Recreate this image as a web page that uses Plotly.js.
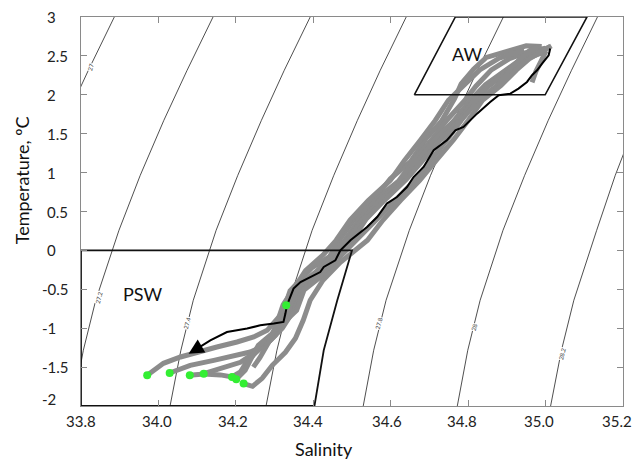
<!DOCTYPE html>
<html><head><meta charset="utf-8">
<script src="https://cdn.plot.ly/plotly-3.0.1.min.js"></script>
<style>html,body{margin:0;padding:0;background:#fff}#chart{width:633px;height:459px}</style>
</head><body><div id="chart"></div>
<script>
// ---- isopycnal (sigma-theta) lines ----
const isoLabels = ['27', '27.2', '27.4', '27.6', '27.8', '28', '28.2'];
const iso270S = [33.886, 33.819, 33.759];
const iso270T = [3.0, 2.315, 1.672];
const iso272S = [34.141, 34.074, 34.014, 33.953, 33.898, 33.838, 33.806, 33.779];
const iso272T = [3.0, 2.315, 1.672, 0.965, 0.258, -0.641, -1.284, -2.0];
const iso274S = [34.392, 34.325, 34.266, 34.205, 34.149, 34.090, 34.058, 34.030];
const iso274T = [3.0, 2.315, 1.672, 0.965, 0.258, -0.641, -1.284, -2.0];
const iso276S = [34.640, 34.573, 34.514, 34.453, 34.397, 34.338, 34.306, 34.278];
const iso276T = [3.0, 2.315, 1.672, 0.965, 0.258, -0.641, -1.284, -2.0];
const iso278S = [34.891, 34.824, 34.764, 34.703, 34.648, 34.588, 34.556, 34.529];
const iso278T = [3.0, 2.315, 1.672, 0.965, 0.258, -0.641, -1.284, -2.0];
const iso280S = [35.134, 35.067, 35.007, 34.946, 34.890, 34.831, 34.799, 34.772];
const iso280T = [3.0, 2.315, 1.672, 0.965, 0.258, -0.641, -1.284, -2.0];
const iso282S = [35.345, 35.285, 35.235, 35.180, 35.132, 35.073, 35.041, 35.013];
const iso282T = [3.0, 2.315, 1.672, 0.965, 0.258, -0.641, -1.284, -2.0];
// contour label anchor points
const isoLabelText = ['27', '27.2', '27.4', '27.8', '28', '28.2'];
const isoLabelS = [33.824, 33.845, 34.073, 34.569, 34.814, 35.043];
const isoLabelT = [2.353, -0.599, -0.937, -0.941, -0.985, -1.327];

// ---- water mass boxes ----
const awS = [34.661, 34.999, 35.107, 34.767, 34.661];
const awT = [2.0, 2.0, 3.0, 3.0, 2.0];
const pswS = [33.8, 34.5, 34.462, 34.427, 34.403, 33.8, 33.8];
const pswT = [0.0, 0.0, -0.64, -1.284, -2.0, -2.0, 0.0];
const boxNames = ['AW', 'PSW'];
const boxLabelS = [34.797, 33.960];
const boxLabelT = [2.53, -0.555];

// ---- gray profiles ----
const p1S = [33.971,34.013,34.057,34.100,34.151,34.203,34.246,34.281,34.321,34.340,34.397,34.442,34.470,34.505,34.552,34.599,34.651,34.692,34.731,34.765,34.782,34.814,34.847,34.909,34.950,34.990];
const p1T = [-1.605,-1.451,-1.370,-1.306,-1.242,-1.177,-1.113,-1.027,-0.80,-0.52,-0.22,-0.08,0.15,0.40,0.62,0.92,1.14,1.44,1.66,1.95,2.14,2.33,2.48,2.57,2.63,2.62];
const p2S = [34.029,34.082,34.143,34.186,34.237,34.276,34.302,34.331,34.351,34.408,34.452,34.480,34.516,34.563,34.620,34.662,34.702,34.746,34.790,34.820,34.860,34.905,34.960,35.000];
const p2T = [-1.576,-1.477,-1.413,-1.370,-1.306,-1.220,-1.091,-0.75,-0.50,-0.27,-0.05,0.12,0.38,0.66,0.89,1.17,1.40,1.68,1.92,2.11,2.32,2.46,2.56,2.60];
const p3S = [34.081,34.117,34.160,34.190,34.212,34.227,34.253,34.281,34.310,34.341,34.361,34.418,34.462,34.490,34.526,34.573,34.630,34.672,34.713,34.762,34.806,34.845,34.895,34.940,34.991,35.005,35.012];
const p3T = [-1.605,-1.590,-1.600,-1.627,-1.560,-1.440,-1.306,-1.160,-1.040,-0.78,-0.50,-0.25,-0.07,0.14,0.39,0.65,0.90,1.16,1.42,1.66,1.93,2.13,2.30,2.47,2.57,2.60,2.62];
const p4S = [34.117,34.160,34.212,34.258,34.289,34.320,34.351,34.371,34.428,34.473,34.500,34.536,34.583,34.640,34.682,34.728,34.777,34.816,34.855,34.905,34.955,35.001,34.990,34.975,34.965];
const p4T = [-1.584,-1.515,-1.438,-1.284,-1.156,-1.001,-0.76,-0.52,-0.26,-0.05,0.13,0.40,0.64,0.91,1.15,1.42,1.67,1.94,2.12,2.31,2.47,2.56,2.45,2.30,2.16];
const p5S = [34.201,34.224,34.237,34.258,34.289,34.328,34.357,34.376,34.439,34.473,34.511,34.565,34.612,34.662,34.705,34.745,34.782,34.826,34.875,34.910,34.935,34.960,34.980];
const p5T = [-1.657,-1.542,-1.413,-1.220,-1.091,-0.898,-0.77,-0.51,-0.26,-0.06,0.13,0.39,0.64,0.90,1.16,1.42,1.67,1.93,2.12,2.32,2.47,2.57,2.62];
const p6S = [34.220,34.243,34.268,34.294,34.328,34.354,34.374,34.392,34.425,34.470,34.540,34.580,34.625,34.675,34.718,34.762,34.800,34.837,34.885,34.925,34.960,34.996,35.015];
const p6T = [-1.712,-1.747,-1.644,-1.477,-1.310,-1.130,-0.898,-0.641,-0.384,-0.153,0.13,0.39,0.64,0.90,1.16,1.42,1.67,1.93,2.12,2.32,2.47,2.57,2.63];
const p7S = [34.245,34.262,34.285,34.305,34.322,34.346,34.380,34.425,34.459,34.495,34.542,34.599,34.636,34.677,34.715,34.749,34.790,34.830,34.880,34.945];
const p7T = [-1.50,-1.38,-1.18,-0.95,-0.70,-0.51,-0.26,-0.06,0.13,0.39,0.64,0.90,1.16,1.42,1.67,1.93,2.12,2.32,2.47,2.57];

// ---- black profile ----
const blackS = [35.012,35.008,34.991,34.978,34.965,34.952,34.930,34.909,34.879,34.857,34.823,34.788,34.767,34.745,34.711,34.685,34.659,34.642,34.616,34.590,34.565,34.539,34.496,34.470,34.457,34.427,34.418,34.367,34.349,34.341,34.332,34.328,34.323,34.298,34.263,34.229,34.177,34.134,34.100];
const blackT = [2.594,2.508,2.401,2.315,2.251,2.165,2.080,2.015,1.994,1.907,1.758,1.586,1.544,1.415,1.287,1.072,0.943,0.815,0.686,0.602,0.429,0.301,0.130,0.001,-0.128,-0.213,-0.278,-0.406,-0.491,-0.599,-0.706,-0.812,-0.920,-0.941,-0.963,-1.005,-1.049,-1.156,-1.262];
const arrowTipS = 34.078;
const arrowTipT = -1.327;

// ---- green points ----
const dotS = [33.971, 34.029, 34.081, 34.117, 34.190, 34.201, 34.220, 34.330];
const dotT = [-1.605, -1.576, -1.605, -1.584, -1.627, -1.657, -1.712, -0.706];

// ---- axis ticks ----
const xTicks = [33.8, 34.0, 34.2, 34.4, 34.6, 34.8, 35.0, 35.2];
const xTickText = ['33.8', '34.0', '34.2', '34.4', '34.6', '34.8', '35.0', '35.2'];
const yTicks = [-2, -1.5, -1, -0.5, 0, 0.5, 1, 1.5, 2, 2.5, 3];
const yTickText = ['-2', '-1.5', '-1', '-0.5', '0', '0.5', '1', '1.5', '2', '2.5', '3'];
const xLabelShift = [0, -1.5, -3, -5, -4, -6, -7, -6];   // label offsets seen in the reference (px)

const FONT = 'Lato, "Open Sans", sans-serif';
const traces = [];
const isoSets = [[iso270S, iso270T], [iso272S, iso272T], [iso274S, iso274T], [iso276S, iso276T], [iso278S, iso278T], [iso280S, iso280T], [iso282S, iso282T]];
isoSets.forEach((p, i) => traces.push({
  type: 'scatter', mode: 'lines', x: p[0], y: p[1], name: isoLabels[i],
  line: {color: '#222', width: 0.8}, hoverinfo: 'skip', showlegend: false
}));
const grays = [[p1S, p1T], [p2S, p2T], [p3S, p3T], [p4S, p4T], [p5S, p5T], [p6S, p6T], [p7S, p7T]];
grays.forEach(p => traces.push({
  type: 'scatter', mode: 'lines', x: p[0], y: p[1],
  line: {color: '#8c8c8c', width: 5}, showlegend: false
}));
traces.push({type: 'scatter', mode: 'lines', x: awS, y: awT, line: {color: '#111', width: 1.6}, showlegend: false});
traces.push({type: 'scatter', mode: 'lines', x: pswS, y: pswT, line: {color: '#111', width: 1.8}, showlegend: false});
traces.push({type: 'scatter', mode: 'lines', x: blackS, y: blackT, line: {color: '#000', width: 2}, showlegend: false});
traces.push({type: 'scatter', mode: 'markers', x: dotS, y: dotT, marker: {color: '#33ee33', size: 8}, showlegend: false});

const annotations = [];
isoLabelText.forEach((t, i) => annotations.push({
  x: isoLabelS[i], y: isoLabelT[i], text: t, showarrow: false, textangle: -75,
  font: {family: FONT, size: 6, color: '#333'}, bgcolor: '#fff', borderpad: 0
}));
boxNames.forEach((t, i) => annotations.push({
  x: boxLabelS[i], y: boxLabelT[i], text: t, showarrow: false,
  font: {family: FONT, size: 18, color: '#111'}
}));
annotations.push({
  x: arrowTipS, y: arrowTipT, ax: blackS[blackS.length - 1], ay: blackT[blackT.length - 1],
  axref: 'x', ayref: 'y', xref: 'x', yref: 'y', showarrow: true, text: '',
  arrowhead: 2, arrowsize: 1.5, arrowwidth: 2, arrowcolor: '#000'
});
// y tick labels, left aligned as in the reference
yTicks.forEach((v, i) => annotations.push({
  xref: 'paper', yref: 'y', x: yTickText[i].startsWith('-') ? -0.0756 : -0.0664, y: v,
  text: yTickText[i], showarrow: false, xanchor: 'left', yanchor: 'middle',
  yshift: v === -2 ? 7 : 0, font: {family: FONT, size: 15, color: '#222'}
}));
// x tick labels
xTicks.forEach((v, i) => annotations.push({
  xref: 'x', yref: 'paper', x: v, y: -0.0393, text: xTickText[i], showarrow: false,
  xanchor: 'center', yanchor: 'middle', xshift: xLabelShift[i],
  font: {family: FONT, size: 15, color: '#222'}
}));
annotations.push({xref: 'paper', yref: 'paper', x: 0.448, y: -0.111, text: 'Salinity', showarrow: false,
  xanchor: 'center', yanchor: 'middle', font: {family: FONT, size: 18, color: '#111'}});
annotations.push({xref: 'paper', yref: 'paper', x: -0.109, y: 0.58, text: 'Temperature, ºC', showarrow: false,
  textangle: -90, xanchor: 'center', yanchor: 'middle', font: {family: FONT, size: 18, color: '#111'}});

const axisCommon = {showgrid: false, zeroline: false, showline: true, linecolor: '#8a8a8a', linewidth: 1,
  mirror: 'ticks', ticks: 'inside', ticklen: 6, tickcolor: '#8a8a8a', tickwidth: 1, showticklabels: false};
const layout = {
  width: 633, height: 459,
  margin: {l: 81, r: 10, t: 17, b: 53},
  paper_bgcolor: '#fff', plot_bgcolor: '#fff',
  showlegend: false,
  xaxis: Object.assign({}, axisCommon, {range: [33.79999, 35.20001], tickvals: xTicks}),
  yaxis: Object.assign({}, axisCommon, {range: [-2.00001, 3.00001], tickvals: yTicks}),
  annotations: annotations
};
Plotly.newPlot('chart', traces, layout, {staticPlot: true});
</script></body></html>
